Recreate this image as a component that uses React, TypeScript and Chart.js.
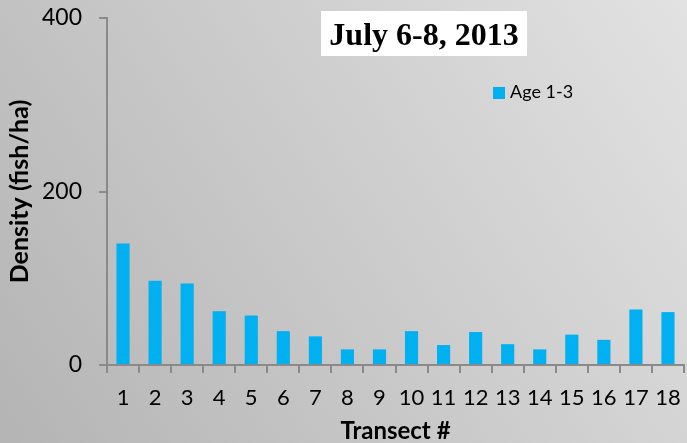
import React, { useEffect, useRef } from "react";
import { Chart, registerables } from "chart.js";

Chart.register(...registerables);

const categories = ["1", "2", "3", "4", "5", "6", "7", "8", "9", "10", "11", "12", "13", "14", "15", "16", "17", "18"];
const age13 = [140, 97, 94, 62, 57, 39, 33, 18, 18, 39, 23, 38, 24, 18, 35, 29, 64, 61];
const seriesLabel = "Age 1-3";
const titleText = "July 6-8, 2013";
const yTicks = [0, 200, 400];

const FONT = "Lato, 'Open Sans', sans-serif";
const BAR = "#00b0f0";
const AXIS = "#8a8a8a";

const bgPlugin = {
  id: "bg",
  beforeDraw(chart: any) {
    const { ctx, width, height } = chart;
    ctx.save();
    const g = ctx.createLinearGradient(0, height, width, 0);
    g.addColorStop(0, "#b4b4b4");
    g.addColorStop(1, "#e2e2e2");
    ctx.fillStyle = g;
    ctx.fillRect(0, 0, width, height);
    ctx.restore();
  },
};

const overlayPlugin = {
  id: "overlay",
  afterDraw(chart: any) {
    const { ctx } = chart;
    ctx.save();
    ctx.fillStyle = "#ffffff";
    ctx.fillRect(321, 11, 206, 45);
    ctx.fillStyle = "#000000";
    ctx.font = "bold 32px 'Liberation Serif', 'Times New Roman', serif";
    ctx.textAlign = "center";
    ctx.textBaseline = "alphabetic";
    ctx.fillText(titleText, 424, 45);
    const ds = chart.data.datasets[0];
    ctx.fillStyle = ds.backgroundColor;
    ctx.fillRect(493, 87, 12, 12);
    ctx.fillStyle = "#000000";
    ctx.font = `18px ${FONT}`;
    ctx.textAlign = "left";
    ctx.textBaseline = "middle";
    ctx.fillText(ds.label, 510, 92);
    ctx.restore();
  },
};

export default function App() {
  const ref = useRef<HTMLCanvasElement>(null);
  useEffect(() => {
    if (!ref.current) return;
    const chart = new Chart(ref.current, {
      type: "bar",
      data: {
        labels: categories,
        datasets: [
          {
            label: seriesLabel,
            data: age13,
            backgroundColor: BAR,
            barPercentage: 0.41,
            categoryPercentage: 1,
          },
        ],
      },
      options: {
        responsive: false,
        animation: false,
        layout: { padding: { top: 18, right: 3, left: 0, bottom: 0 } },
        plugins: {
          legend: { display: false },
          title: { display: false },
          tooltip: { enabled: false },
        },
        scales: {
          x: {
            offset: true,
            grid: {
              display: true,
              drawOnChartArea: false,
              drawTicks: true,
              tickLength: 8,
              color: AXIS,
              lineWidth: 2,
              offset: true,
            },
            border: { display: true, color: AXIS, width: 2 },
            ticks: {
              color: "#000",
              font: { family: FONT, size: 22 },
              padding: 12,
              maxRotation: 0,
              autoSkip: false,
            },
            title: {
              display: true,
              text: "Transect #",
              color: "#000",
              font: { family: FONT, size: 24, weight: "bold", lineHeight: 1 },
              padding: { top: 0, bottom: 0 },
            },
            afterFit(scale: any) {
              scale.height = 78;
              scale.paddingLeft = 0;
              scale.paddingRight = 0;
            },
          },
          y: {
            min: 0,
            max: 400,
            afterBuildTicks(scale: any) {
              scale.ticks = yTicks.map((v) => ({ value: v }));
            },
            grid: {
              display: true,
              drawOnChartArea: false,
              drawTicks: true,
              tickLength: 8,
              color: AXIS,
              lineWidth: 2,
            },
            border: { display: true, color: AXIS, width: 2 },
            ticks: {
              color: "#000",
              font: { family: FONT, size: 23 },
              padding: 17,
            },
            title: {
              display: true,
              text: "Density (fish/ha)",
              color: "#000",
              font: { family: FONT, size: 25, weight: "bold", lineHeight: 1.2 },
              padding: { top: 5, bottom: 0 },
            },
            afterFit(scale: any) {
              scale.width = 107;
              scale.paddingTop = 0;
              scale.paddingBottom = 0;
            },
          },
        },
      },
      plugins: [bgPlugin, overlayPlugin],
    });
    return () => chart.destroy();
  }, []);
  return (
    <div style={{ position: "absolute", left: 0, top: 0, width: 687, height: 443 }}>
      <canvas ref={ref} width={687} height={443} style={{ display: "block" }} />
    </div>
  );
}
